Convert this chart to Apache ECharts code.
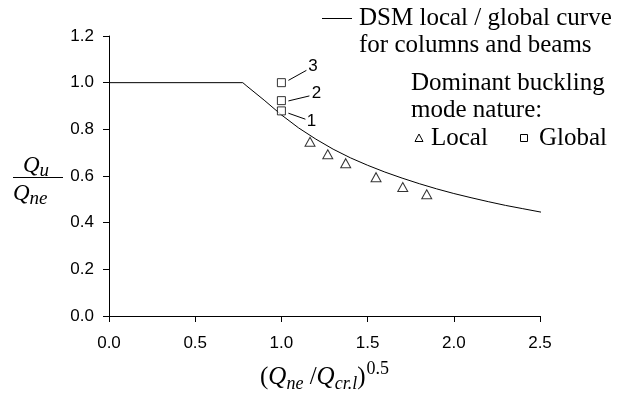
<!DOCTYPE html>
<html>
<head>
<meta charset="utf-8">
<script src="https://cdn.jsdelivr.net/npm/echarts@6/dist/echarts.min.js"></script>
<style>
  html, body { margin: 0; padding: 0; background: #fff; }
  #chart { width: 620px; height: 395px; }
</style>
</head>
<body>
<div id="chart"></div>
<script>
// DSM local / global design curve for columns and beams
const curveX = [0, 0.776, 0.8, 0.9, 1.0, 1.1, 1.2, 1.3, 1.4, 1.5, 1.6, 1.7, 1.8, 1.9, 2.0, 2.1, 2.2, 2.3, 2.4, 2.5, 2.53];
const curveY = [1.0, 1.0, 0.985, 0.925, 0.862, 0.806, 0.758, 0.715, 0.678, 0.646, 0.617, 0.591, 0.567, 0.545, 0.525, 0.507, 0.490, 0.474, 0.460, 0.446, 0.442];

// Test results whose dominant buckling mode is local
const localX = [1.166, 1.269, 1.373, 1.549, 1.704, 1.843];
const localY = [0.747, 0.693, 0.655, 0.595, 0.553, 0.522];

// Test results whose dominant buckling mode is global
const globalX = [1.0, 1.0, 1.0];
const globalY = [0.879, 0.923, 1.0];
const globalTags = ['1', '2', '3'];

// Axis ticks
const xTicks = [0.0, 0.5, 1.0, 1.5, 2.0, 2.5];
const yTicks = [0.0, 0.2, 0.4, 0.6, 0.8, 1.0, 1.2];

const SANS = '"Liberation Sans", Arial, sans-serif';
const SERIF = '"Liberation Serif", "Times New Roman", serif';
const INK = '#000';
const LEGEND_FONT = '25px ' + SERIF;

const zip = (a, b) => a.map((v, i) => [v, b[i]]);

// pixel offsets for each tag's leader line and number, relative to its marker
const tagLayout = [
  { from: [7, 2.3], to: [24, 8.3], text: [30, 10] },
  { from: [7, 0.3], to: [28, -4.7], text: [35, -7.4] },
  { from: [7, -2.3], to: [25, -12.3], text: [31.5, -16.3] }
];

const chart = echarts.init(document.getElementById('chart'), null, { renderer: 'canvas' });

const axisCommon = {
  axisLine: { show: true, lineStyle: { color: INK, width: 1 } },
  axisTick: { show: true, inside: false, length: 6, lineStyle: { color: INK, width: 1 } },
  splitLine: { show: false },
  axisLabel: { color: INK, fontFamily: SANS, fontSize: 17, formatter: v => v.toFixed(1) }
};

const fracRich = {
  q: { fontFamily: SERIF, fontStyle: 'italic', fontSize: 23, fill: INK, verticalAlign: 'bottom', padding: [0, 0, 3, 0] },
  s: { fontFamily: SERIF, fontStyle: 'italic', fontSize: 19, fill: INK, verticalAlign: 'bottom' }
};

chart.setOption({
  animation: false,
  backgroundColor: '#fff',
  grid: { left: 109, right: 80, top: 36, bottom: 79, containLabel: false, outerBoundsMode: 'none' },
  xAxis: Object.assign({}, axisCommon, {
    type: 'value',
    min: xTicks[0],
    max: xTicks[xTicks.length - 1],
    interval: xTicks[1] - xTicks[0],
    axisLabel: Object.assign({}, axisCommon.axisLabel, { margin: 19 }),
    name: '{p|(}{q|Q}{s|ne}{p| /}{q|Q}{s|cr.l}{p|)}{e|0.5}',
    nameLocation: 'middle',
    nameGap: 44,
    nameTextStyle: {
      rich: {
        p: { fontFamily: SERIF, fontSize: 25, color: INK, verticalAlign: 'bottom', padding: [0, 0, 3, 0] },
        q: { fontFamily: SERIF, fontStyle: 'italic', fontSize: 25, color: INK, verticalAlign: 'bottom', padding: [0, 0, 3, 0] },
        s: { fontFamily: SERIF, fontStyle: 'italic', fontSize: 18, color: INK, verticalAlign: 'bottom' },
        e: { fontFamily: SERIF, fontSize: 18, color: INK, verticalAlign: 'bottom', padding: [0, 0, 15, 1] }
      }
    }
  }),
  yAxis: Object.assign({}, axisCommon, {
    type: 'value',
    min: yTicks[0],
    max: yTicks[yTicks.length - 1],
    interval: yTicks[1] - yTicks[0],
    axisLabel: Object.assign({}, axisCommon.axisLabel, { margin: 15 })
  }),
  series: [
    {
      name: 'DSM',
      type: 'line',
      data: zip(curveX, curveY),
      showSymbol: false,
      clip: false,
      lineStyle: { color: INK, width: 1 },
      z: 2
    },
    {
      name: 'Local',
      type: 'scatter',
      data: zip(localX, localY),
      symbol: 'triangle',
      symbolSize: [10, 9],
      itemStyle: { color: '#fff', borderColor: INK, borderWidth: 1 },
      z: 3
    },
    {
      name: 'Global',
      type: 'scatter',
      data: zip(globalX, globalY),
      symbol: 'rect',
      symbolSize: 8,
      itemStyle: { color: '#fff', borderColor: INK, borderWidth: 1 },
      z: 3
    },
    {
      // numbered tags with leader lines for the global-mode tests
      name: 'Tags',
      type: 'custom',
      data: globalX.map((x, i) => [x, globalY[i], i]),
      renderItem: (params, api) => {
        const p = api.coord([api.value(0), api.value(1)]);
        const lay = tagLayout[api.value(2)];
        return {
          type: 'group',
          children: [
            {
              type: 'line',
              shape: { x1: p[0] + lay.from[0], y1: p[1] + lay.from[1], x2: p[0] + lay.to[0], y2: p[1] + lay.to[1] },
              style: { stroke: INK, lineWidth: 1 }
            },
            {
              type: 'text',
              style: {
                x: p[0] + lay.text[0], y: p[1] + lay.text[1],
                text: globalTags[api.value(2)],
                align: 'center', verticalAlign: 'middle',
                font: '17px ' + SANS, fill: INK
              }
            }
          ]
        };
      },
      z: 4
    }
  ],
  graphic: [
    // y-axis title drawn as a fraction
    { type: 'text', left: 23, top: 154, style: { text: '{q|Q}{s|u}', rich: fracRich } },
    { type: 'line', shape: { x1: 13, y1: 177.5, x2: 63, y2: 177.5 }, style: { stroke: INK, lineWidth: 1 } },
    { type: 'text', left: 13, top: 182, style: { text: '{q|Q}{s|ne}', rich: fracRich } },
    // legend
    { type: 'line', shape: { x1: 322, y1: 18.5, x2: 352, y2: 18.5 }, style: { stroke: INK, lineWidth: 1 } },
    { type: 'text', left: 359, top: 6, style: { text: 'DSM local / global curve', font: LEGEND_FONT, fill: INK } },
    { type: 'text', left: 359, top: 33, style: { text: 'for columns and beams', font: LEGEND_FONT, fill: INK } },
    { type: 'text', left: 411, top: 71, style: { text: 'Dominant buckling', font: LEGEND_FONT, fill: INK } },
    { type: 'text', left: 411, top: 98, style: { text: 'mode nature:', font: LEGEND_FONT, fill: INK } },
    { type: 'polygon', shape: { points: [[419, 134], [415, 141.5], [423, 141.5]] }, style: { fill: '#fff', stroke: INK, lineWidth: 1 } },
    { type: 'text', left: 431, top: 126, style: { text: 'Local', font: LEGEND_FONT, fill: INK } },
    { type: 'rect', shape: { x: 520.5, y: 134.5, width: 7, height: 7 }, style: { fill: '#fff', stroke: INK, lineWidth: 1 } },
    { type: 'text', left: 539, top: 126, style: { text: 'Global', font: LEGEND_FONT, fill: INK } }
  ]
});
</script>
</body>
</html>
